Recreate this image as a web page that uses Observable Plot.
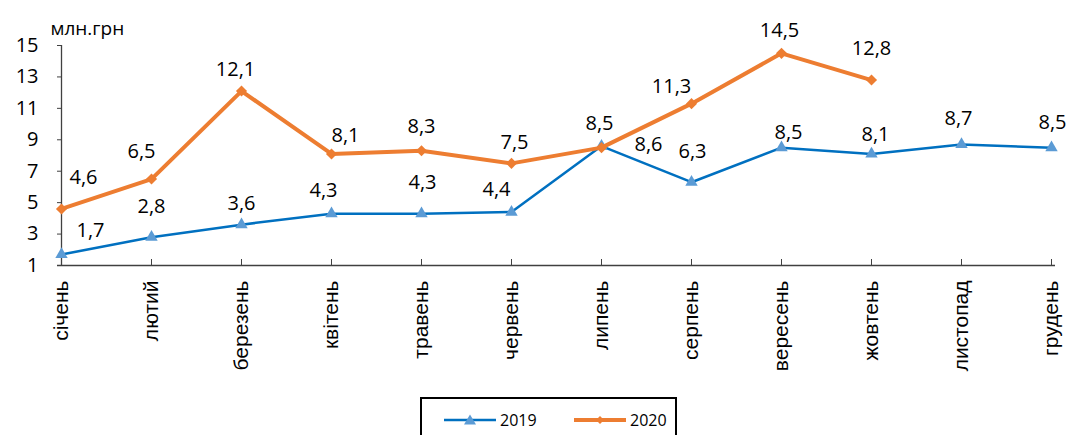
<!DOCTYPE html>
<html>
<head>
<meta charset="utf-8">
<script src="https://cdn.jsdelivr.net/npm/d3@7"></script>
<script src="https://cdn.jsdelivr.net/npm/@observablehq/plot@0.6"></script>
<style>
  body { margin: 0; background: #fff; font-family: "Open Sans", sans-serif; }
  #chart svg { display: block; }
  #legend {
    position: absolute; left: 420px; top: 397px; width: 253px; height: 50px;
    border: 2px solid #000; box-sizing: content-box; background: #fff;
  }
  #legend .item { position: absolute; top: 10px; display: flex; align-items: center; font-size: 16px; color: #000; }
</style>
</head>
<body>
<div id="chart"></div>
<div id="legend">
  <div class="item" style="left:20px">
    <svg width="56" height="14"><line x1="2" y1="7" x2="54" y2="7" stroke="#0070C0" stroke-width="2.5"/><path d="M28,1.5 L34,11.5 L22,11.5 Z" fill="#5B9BD5"/></svg>
    <span style="margin-left:2px">2019</span>
  </div>
  <div class="item" style="left:150px">
    <svg width="56" height="14"><line x1="2" y1="7" x2="54" y2="7" stroke="#ED7D31" stroke-width="4"/><path d="M28,3 L32,7 L28,11 L24,7 Z" fill="#ED7D31"/></svg>
    <span style="margin-left:2px">2020</span>
  </div>
</div>
<script>
const months = ["січень","лютий","березень","квітень","травень","червень","липень","серпень","вересень","жовтень","листопад","грудень"];
const values2019 = [1.7, 2.8, 3.6, 4.3, 4.3, 4.4, 8.6, 6.3, 8.5, 8.1, 8.7, 8.5];
const values2020 = [4.6, 6.5, 12.1, 8.1, 8.3, 7.5, 8.5, 11.3, 14.5, 12.8];
const yTicks = [1, 3, 5, 7, 9, 11, 13, 15];
const unitLabel = "млн.грн";

// label offsets in pixels (placement only)
const shift2019 = [[29,-24],[0,-31],[0,-21],[-8,-23],[1,-31],[-15,-22],[47,-1],[1,-31],[7,-15],[4,-19],[-3,-26],[1,-25]];
const shift2020 = [[22,-31],[-10,-27],[-6,-21],[14,-18],[0,-24],[3,-21],[-2,-24],[-20,-17],[-2,-23],[0,-31]];

const d2019 = months.map((m, i) => ({month: m, value: values2019[i], i}));
const d2020 = values2020.map((v, i) => ({month: months[i], value: v, i}));

const fmt = v => String(v).replace(".", ",");
const labelFont = {fontSize: 20, fontFamily: "Open Sans", fill: "#000"};

const labelMarks = [
  ...d2019.map(d => Plot.text([d], {x: "month", y: "value", text: d => fmt(d.value), dx: shift2019[d.i][0], dy: shift2019[d.i][1], ...labelFont})),
  ...d2020.map(d => Plot.text([d], {x: "month", y: "value", text: d => fmt(d.value), dx: shift2020[d.i][0], dy: shift2020[d.i][1], ...labelFont}))
];

const chart = Plot.plot({
  width: 1073,
  height: 392,
  marginLeft: 57,
  marginRight: 18,
  marginTop: 45,
  marginBottom: 127,
  style: {fontFamily: "Open Sans", color: "#000", background: "#fff"},
  x: {type: "point", domain: months, padding: 0, label: null},
  y: {domain: [1, 15], label: null},
  marks: [
    Plot.ruleY([1], {stroke: "#404040", strokeWidth: 1.3}),
    Plot.ruleX([months[0]], {stroke: "#404040", strokeWidth: 1.3}),
    Plot.axisY({ticks: yTicks, tickSize: -5, tickPadding: 24, fontSize: 20, fontFamily: "Open Sans", stroke: "#404040", tickFormat: d => String(d), label: null}),
    Plot.axisX({tickSize: -6, tickPadding: 21, tickRotate: -90, fontSize: 21, fontFamily: "Liberation Sans", stroke: "#404040", label: null}),
    Plot.line(d2019, {x: "month", y: "value", stroke: "#0070C0", strokeWidth: 2.5}),
    Plot.dot(d2019, {x: "month", y: "value", symbol: "triangle", r: 4.6, fill: "#5B9BD5", stroke: "none"}),
    Plot.line(d2020, {x: "month", y: "value", stroke: "#ED7D31", strokeWidth: 4}),
    Plot.dot(d2020, {x: "month", y: "value", symbol: "diamond2", r: 5, fill: "#ED7D31", stroke: "none"}),
    Plot.text([unitLabel], {frameAnchor: "top-left", text: d => d, dx: -7, dy: -24, textAnchor: "start", fontSize: 19, fontFamily: "Open Sans", fill: "#000"}),
    ...labelMarks
  ]
});
document.getElementById("chart").appendChild(chart);
</script>
</body>
</html>
